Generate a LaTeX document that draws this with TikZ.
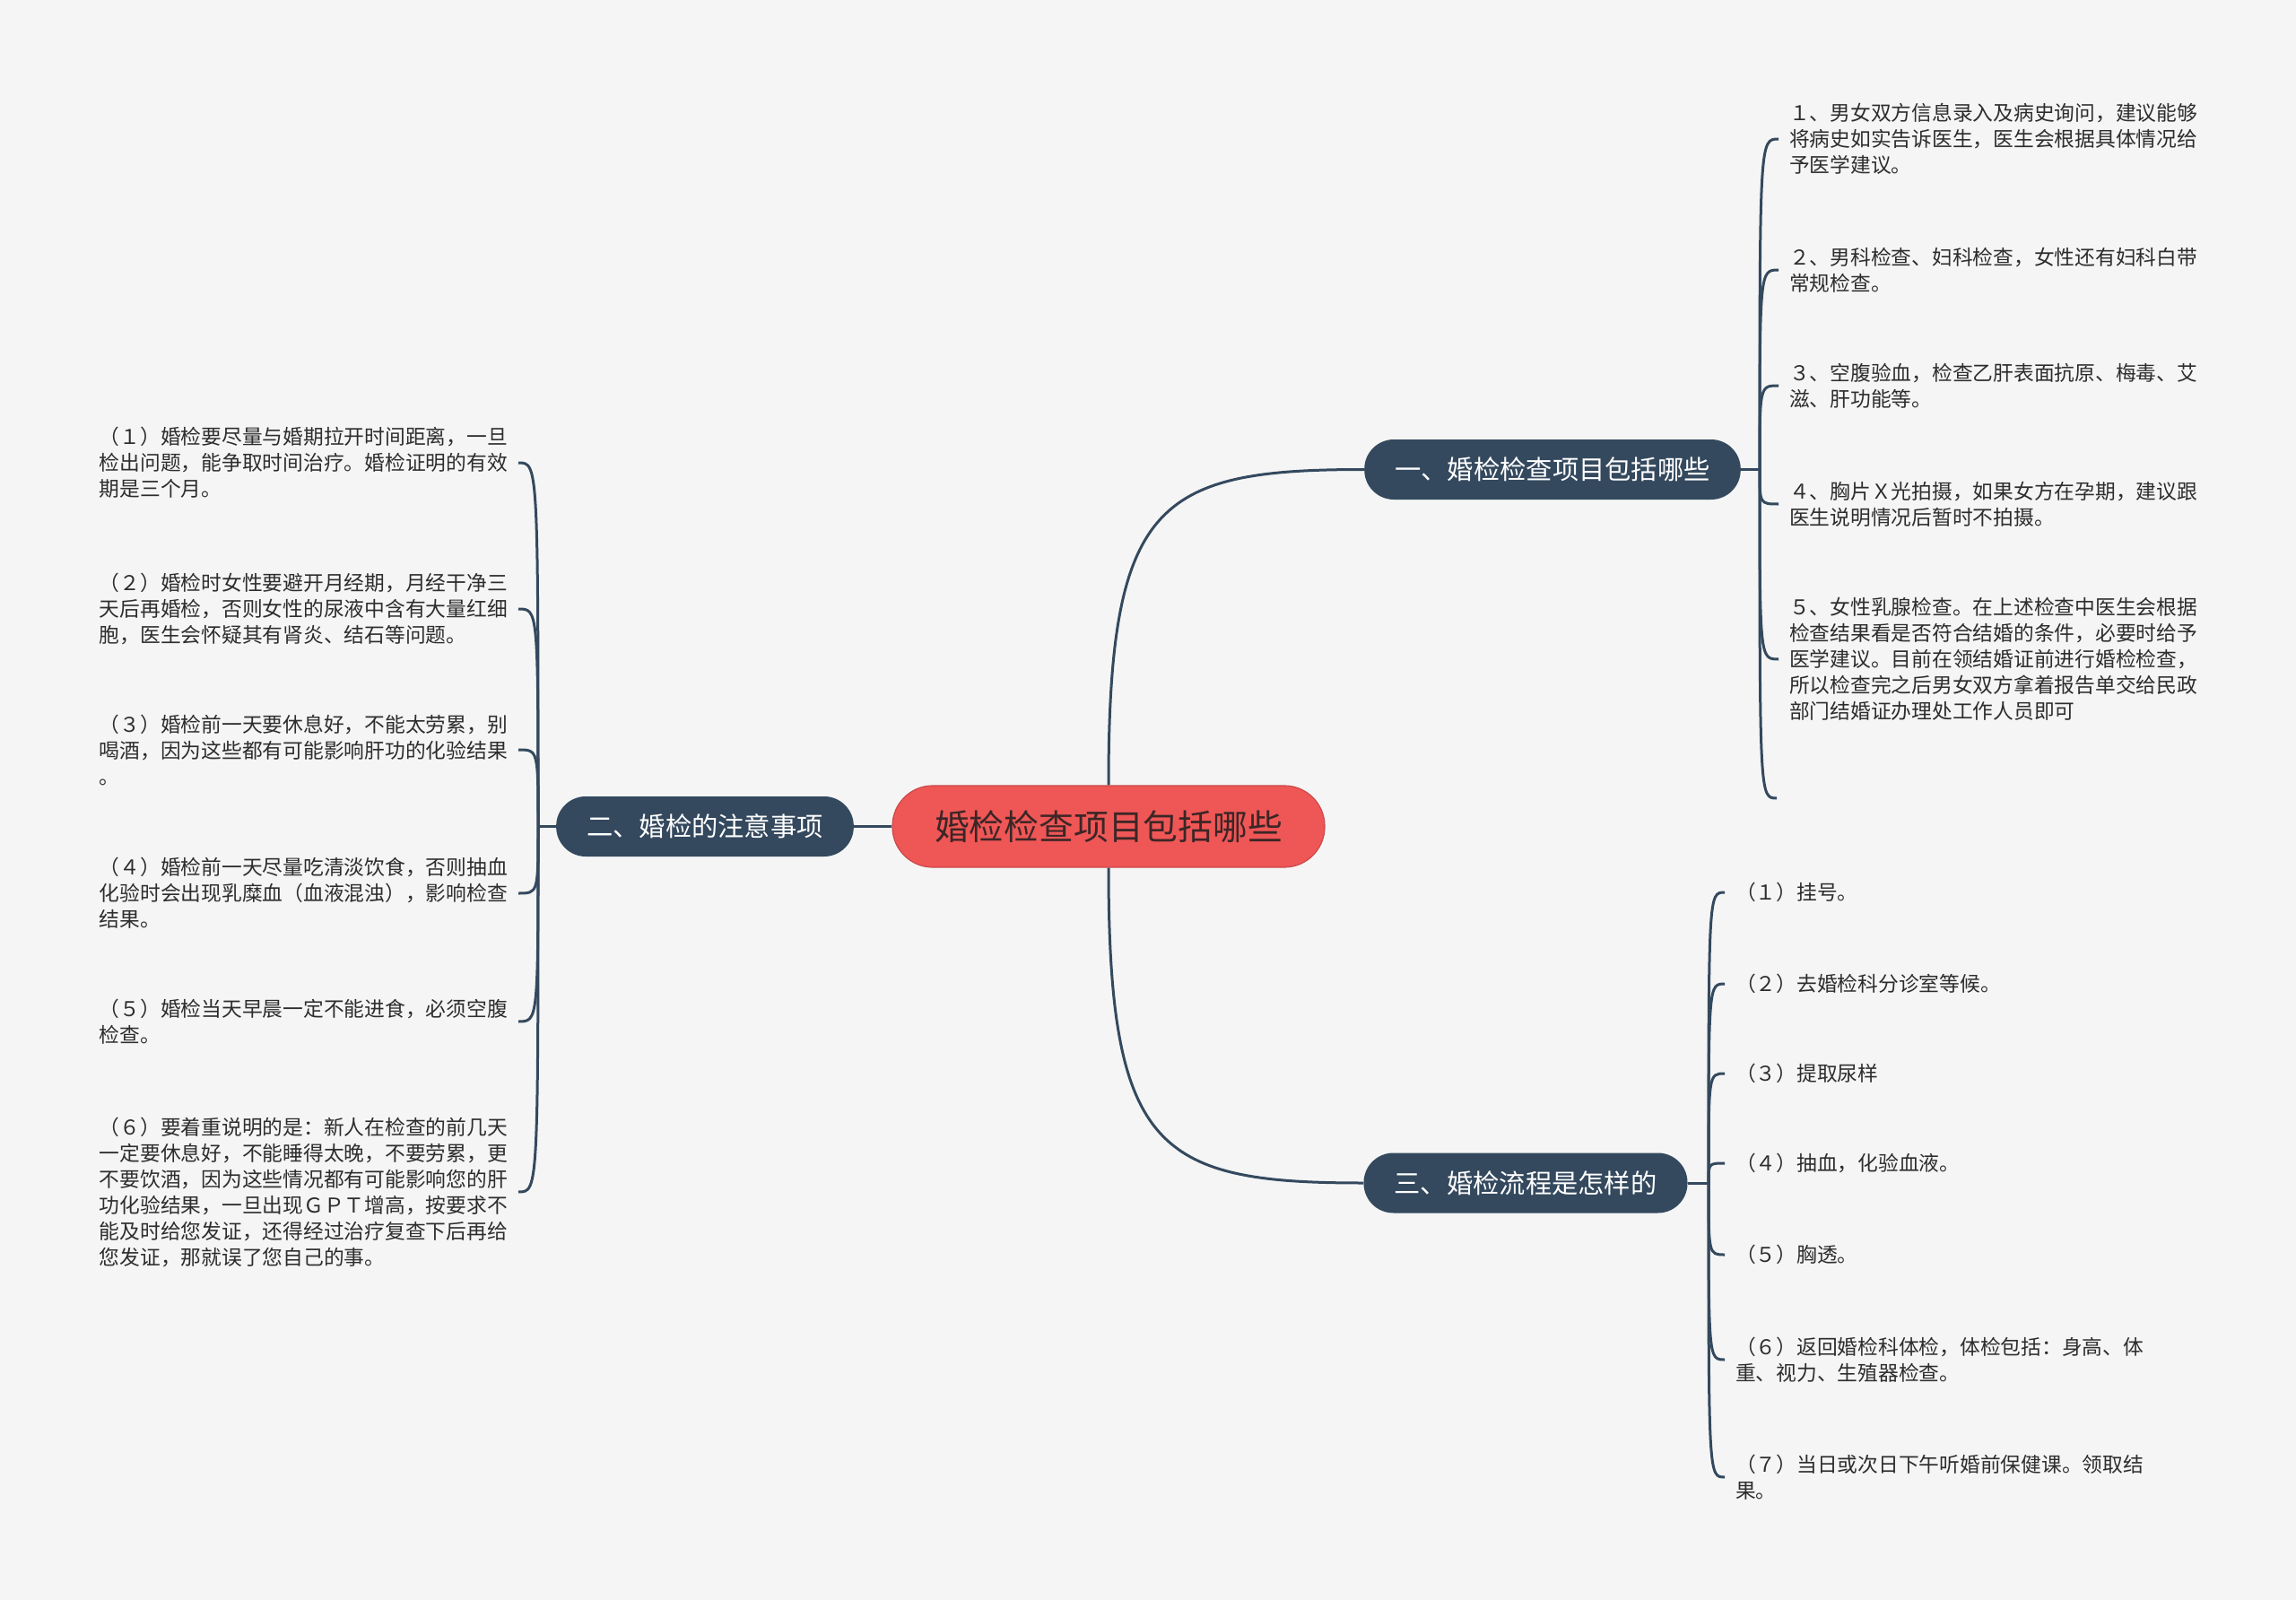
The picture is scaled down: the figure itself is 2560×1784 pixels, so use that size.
\documentclass[tikz,border=0pt]{standalone}
\usepackage{fontspec}
\setmainfont{Noto Sans CJK SC}
\usepackage{tikz}
\usetikzlibrary{positioning, calc}
\usepackage{xcolor}
\definecolor{mapnavy}{RGB}{52, 73, 94}
\definecolor{mapred}{RGB}{239, 86, 86}
\definecolor{mapbg}{RGB}{245, 245, 245}
\definecolor{mapink}{RGB}{45, 45, 45}
\definecolor{mapdark}{RGB}{60, 38, 38}
\tikzset{
  rootbox/.style={
    rectangle, rounded corners=45pt,
    draw=mapred!85!black, fill=mapred, line width=1.2pt,
    text=mapdark, font=\fontsize{38.8}{46}\selectfont,
    inner xsep=47pt, inner ysep=0pt, minimum height=91pt
  },
  topicbox/.style={
    rectangle, rounded corners=33pt,
    fill=mapnavy, text=white,
    font=\fontsize{29.3}{35}\selectfont,
    inner xsep=34pt, inner ysep=0pt, minimum height=67pt
  },
  leafbox/.style={
    align=left, text=mapink,
    font=\fontsize{22.75}{29}\selectfont,
    inner xsep=12pt, inner ysep=0pt
  },
  lnk/.style={draw=mapnavy, line width=3pt},
}

\begin{document}
\begin{tikzpicture}[x=1pt, y=-1pt]
        \fill[mapbg] (0,0) rectangle (2560,1784);
        \useasboundingbox (0,0) rectangle (2560,1784);
        % centre and main topics
        \node[rootbox] (root) at (1236,921.5) {婚检检查项目包括哪些};
        \node[topicbox] (t1) at (1731,523.5) {一、婚检检查项目包括哪些};
        \node[topicbox] (t2) at (786,921.5) {二、婚检的注意事项};
        \node[topicbox] (t3) at (1701,1319) {三、婚检流程是怎样的};
        \coordinate (j1) at (1962,523.5);
        \coordinate (j2) at (600,921.5);
        \coordinate (j3) at (1905,1319);
        % topic one
        \node[leafbox, anchor=west] (a1) at (1983,155) {１、男女双方信息录入及病史询问，建议能够\\将病史如实告诉医生，医生会根据具体情况给\\予医学建议。};
        \node[leafbox, anchor=west] (a2) at (1983,301) {２、男科检查、妇科检查，女性还有妇科白带\\常规检查。};
        \node[leafbox, anchor=west] (a3) at (1983,430) {３、空腹验血，检查乙肝表面抗原、梅毒、艾\\滋、肝功能等。};
        \node[leafbox, anchor=west] (a4) at (1983,562) {４、胸片Ｘ光拍摄，如果女方在孕期，建议跟\\医生说明情况后暂时不拍摄。};
        \node[leafbox, anchor=west] (a5) at (1983,735) {５、女性乳腺检查。在上述检查中医生会根据\\检查结果看是否符合结婚的条件，必要时给予\\医学建议。目前在领结婚证前进行婚检检查，\\所以检查完之后男女双方拿着报告单交给民政\\部门结婚证办理处工作人员即可};
        \coordinate (a6) at (1981,890);
        % topic two
        \node[leafbox, anchor=east] (b1) at (578,516) {（１）婚检要尽量与婚期拉开时间距离，一旦\\检出问题，能争取时间治疗。婚检证明的有效\\期是三个月。};
        \node[leafbox, anchor=east] (b2) at (578,679) {（２）婚检时女性要避开月经期，月经干净三\\天后再婚检，否则女性的尿液中含有大量红细\\胞，医生会怀疑其有肾炎、结石等问题。};
        \node[leafbox, anchor=east] (b3) at (578,836) {（３）婚检前一天要休息好，不能太劳累，别\\喝酒，因为这些都有可能影响肝功的化验结果\\。};
        \node[leafbox, anchor=east] (b4) at (578,996) {（４）婚检前一天尽量吃清淡饮食，否则抽血\\化验时会出现乳糜血（血液混浊），影响检查\\结果。};
        \node[leafbox, anchor=east] (b5) at (578,1139) {（５）婚检当天早晨一定不能进食，必须空腹\\检查。};
        \node[leafbox, anchor=east] (b6) at (578,1329) {（６）要着重说明的是：新人在检查的前几天\\一定要休息好，不能睡得太晚，不要劳累，更\\不要饮酒，因为这些情况都有可能影响您的肝\\功化验结果，一旦出现ＧＰＴ增高，按要求不\\能及时给您发证，还得经过治疗复查下后再给\\您发证，那就误了您自己的事。};
        % topic three
        \node[leafbox, anchor=west] (c1) at (1923,995) {（１）挂号。};
        \node[leafbox, anchor=west] (c2) at (1923,1097) {（２）去婚检科分诊室等候。};
        \node[leafbox, anchor=west] (c3) at (1923,1197) {（３）提取尿样};
        \node[leafbox, anchor=west] (c4) at (1923,1297) {（４）抽血，化验血液。};
        \node[leafbox, anchor=west] (c5) at (1923,1399) {（５）胸透。};
        \node[leafbox, anchor=west] (c6) at (1923,1516) {（６）返回婚检科体检，体检包括：身高、体\\重、视力、生殖器检查。};
        \node[leafbox, anchor=west] (c7) at (1923,1647) {（７）当日或次日下午听婚前保健课。领取结\\果。};
        % connectors
        \draw[lnk] (root.north) .. controls ($(root.north |- t1.west)+(0,36)$) and ($(root.north |- t1.west)+(54,0)$) .. (t1.west);
        \draw[lnk] (root.south) .. controls ($(root.south |- t3.west)+(0,-36)$) and ($(root.south |- t3.west)+(54,0)$) .. (t3.west);
        \draw[lnk] (root.west) -- (t2.east);
        \draw[lnk] (t1.east) -- (j1); \draw[lnk] (t2.west) -- (j2); \draw[lnk] (t3.east) -- (j3);
        \draw[lnk] (j1) .. controls (j1 |- a1.west) .. (a1.west);
        \draw[lnk] (j1) .. controls (j1 |- a2.west) .. (a2.west);
        \draw[lnk] (j1) .. controls (j1 |- a3.west) .. (a3.west);
        \draw[lnk] (j1) .. controls (j1 |- a4.west) .. (a4.west);
        \draw[lnk] (j1) .. controls (j1 |- a5.west) .. (a5.west);
        \draw[lnk] (j1) .. controls (j1 |- a6) .. (a6);
        \draw[lnk] (j2) .. controls (j2 |- b1.east) .. (b1.east);
        \draw[lnk] (j2) .. controls (j2 |- b2.east) .. (b2.east);
        \draw[lnk] (j2) .. controls (j2 |- b3.east) .. (b3.east);
        \draw[lnk] (j2) .. controls (j2 |- b4.east) .. (b4.east);
        \draw[lnk] (j2) .. controls (j2 |- b5.east) .. (b5.east);
        \draw[lnk] (j2) .. controls (j2 |- b6.east) .. (b6.east);
        \draw[lnk] (j3) .. controls (j3 |- c1.west) .. (c1.west);
        \draw[lnk] (j3) .. controls (j3 |- c2.west) .. (c2.west);
        \draw[lnk] (j3) .. controls (j3 |- c3.west) .. (c3.west);
        \draw[lnk] (j3) .. controls (j3 |- c4.west) .. (c4.west);
        \draw[lnk] (j3) .. controls (j3 |- c5.west) .. (c5.west);
        \draw[lnk] (j3) .. controls (j3 |- c6.west) .. (c6.west);
        \draw[lnk] (j3) .. controls (j3 |- c7.west) .. (c7.west);
\end{tikzpicture}
\end{document}
